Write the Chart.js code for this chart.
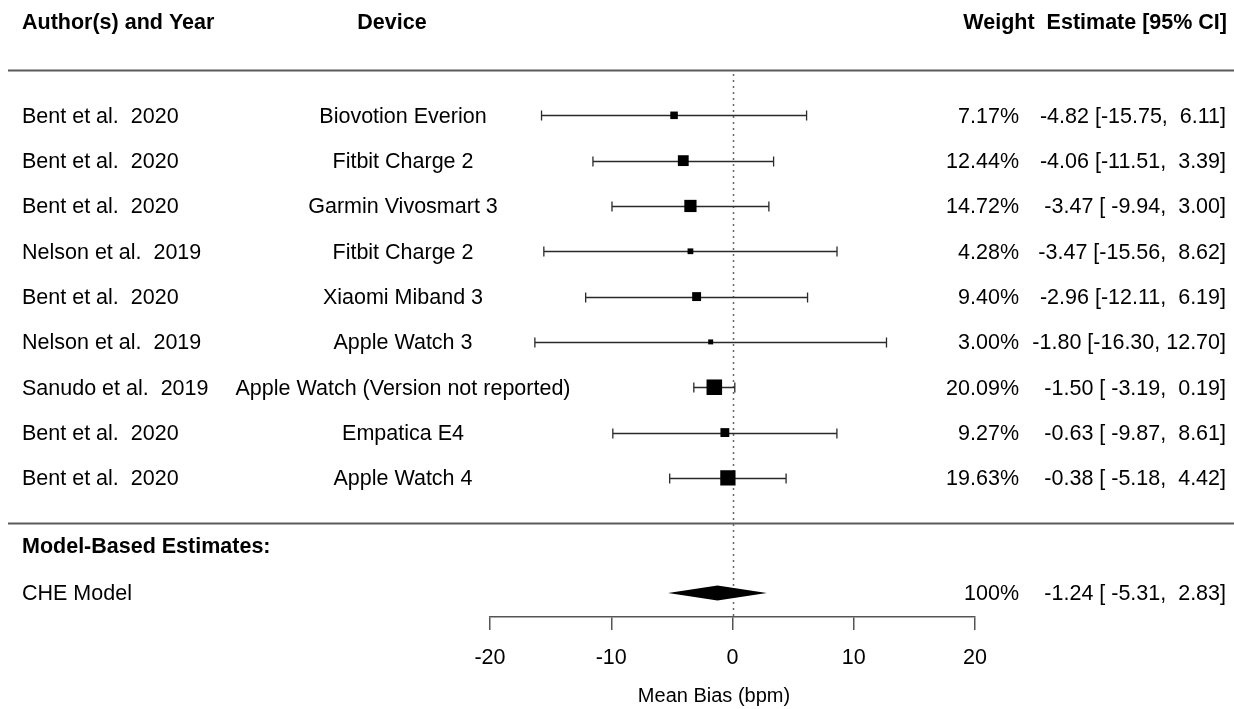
<!DOCTYPE html>
<html>
<head>
<meta charset="utf-8">
<script src="https://cdn.jsdelivr.net/npm/chart.js@4.4.0/dist/chart.umd.min.js"></script>
<style>
  html, body { margin: 0; padding: 0; background: #fff; }
  #wrap { width: 1234px; height: 709px; position: relative; }
</style>
</head>
<body>
<div id="wrap"><canvas id="forest"></canvas></div>
<script>
// ==============================
// Data
// ==============================
const authors = [
  "Bent et al.  2020", "Bent et al.  2020", "Bent et al.  2020",
  "Nelson et al.  2019", "Bent et al.  2020", "Nelson et al.  2019",
  "Sanudo et al.  2019", "Bent et al.  2020", "Bent et al.  2020"
];
const devices = [
  "Biovotion Everion", "Fitbit Charge 2", "Garmin Vivosmart 3",
  "Fitbit Charge 2", "Xiaomi Miband 3", "Apple Watch 3",
  "Apple Watch (Version not reported)", "Empatica E4", "Apple Watch 4"
];
const weights = [7.17, 12.44, 14.72, 4.28, 9.40, 3.00, 20.09, 9.27, 19.63];
const estimates = [-4.82, -4.06, -3.47, -3.47, -2.96, -1.80, -1.50, -0.63, -0.38];
const ciLower = [-15.75, -11.51, -9.94, -15.56, -12.11, -16.30, -3.19, -9.87, -5.18];
const ciUpper = [6.11, 3.39, 3.00, 8.62, 6.19, 12.70, 0.19, 8.61, 4.42];

const modelLabel = "CHE Model";
const modelWeight = 100;
const modelEstimate = -1.24;
const modelLower = -5.31;
const modelUpper = 2.83;

const xTicks = [-20, -10, 0, 10, 20];
const xTitle = "Mean Bias (bpm)";

// rows: studies top to bottom, then the model block
const studyRows = estimates.map((_, i) => estimates.length - i);
const headerRow = 11.06;
const topLineRow = 10;
const bottomLineRow = 0;
const sectionRow = -0.5;
const modelRow = -1.54;

// ==============================
// Helpers
// ==============================
const FONT = "'Liberation Sans', Arial, Helvetica, sans-serif";
const TXT = 21.5;
const DY = 1.5; // visual centering of text on a row
function fmt(v, w) { return v.toFixed(2).padStart(w, " "); }
function ciText(est, lo, hi) {
  return fmt(est, 5) + " [" + fmt(lo, 6) + ", " + fmt(hi, 5) + "]";
}
function sideFor(w) { return 3.1 + 0.62 * w; }

// ==============================
// Plugin: table text, lines, CIs, diamond
// ==============================
const forestPlugin = {
  id: "forest",
  beforeDatasetsDraw(chart) {
    const { ctx, scales: { x, y } } = chart;
    ctx.save();

    // horizontal separators
    ctx.strokeStyle = "#5a5a5a";
    ctx.lineWidth = 2;
    [topLineRow, bottomLineRow].forEach(r => {
      const py = Math.round(y.getPixelForValue(r)) + 0.5;
      ctx.beginPath();
      ctx.moveTo(8, py);
      ctx.lineTo(1234, py);
      ctx.stroke();
    });

    // dotted reference line at 0
    ctx.strokeStyle = "#666";
    ctx.lineWidth = 1.5;
    ctx.setLineDash([2, 4]);
    const x0 = Math.round(x.getPixelForValue(0)) + 0.5;
    ctx.beginPath();
    ctx.moveTo(x0, y.getPixelForValue(topLineRow) + 4);
    ctx.lineTo(x0, y.bottom);
    ctx.stroke();
    ctx.setLineDash([]);

    // confidence intervals
    ctx.strokeStyle = "#2a2a2a";
    ctx.lineWidth = 1.3;
    estimates.forEach((_, i) => {
      const py = Math.round(y.getPixelForValue(studyRows[i])) + 0.5;
      const xl = x.getPixelForValue(ciLower[i]);
      const xh = x.getPixelForValue(ciUpper[i]);
      ctx.beginPath();
      ctx.moveTo(xl, py); ctx.lineTo(xh, py);
      ctx.moveTo(xl, py - 5); ctx.lineTo(xl, py + 5);
      ctx.moveTo(xh, py - 5); ctx.lineTo(xh, py + 5);
      ctx.stroke();
    });
    ctx.restore();
  },
  afterDatasetsDraw(chart) {
    const { ctx, scales: { x, y } } = chart;
    ctx.save();

    // model diamond
    const my = y.getPixelForValue(modelRow);
    ctx.fillStyle = "#000";
    ctx.beginPath();
    ctx.moveTo(x.getPixelForValue(modelLower), my);
    ctx.lineTo(x.getPixelForValue(modelEstimate), my - 7.5);
    ctx.lineTo(x.getPixelForValue(modelUpper), my);
    ctx.lineTo(x.getPixelForValue(modelEstimate), my + 7.5);
    ctx.closePath();
    ctx.fill();

    // text
    ctx.fillStyle = "#000";
    ctx.textBaseline = "middle";
    const hy = y.getPixelForValue(headerRow) + DY;
    ctx.font = "bold " + TXT + "px " + FONT;
    ctx.textAlign = "left";
    ctx.fillText("Author(s) and Year", 22, hy);
    ctx.textAlign = "center";
    ctx.fillText("Device", 392, hy);
    ctx.textAlign = "right";
    ctx.fillText("Weight  Estimate [95% CI]", 1227, hy);

    ctx.font = TXT + "px " + FONT;
    estimates.forEach((est, i) => {
      const py = y.getPixelForValue(studyRows[i]) + DY;
      ctx.textAlign = "left";
      ctx.fillText(authors[i], 22, py);
      ctx.textAlign = "center";
      ctx.fillText(devices[i], 403, py);
      ctx.textAlign = "right";
      ctx.fillText(weights[i].toFixed(2) + "%", 1019, py);
      ctx.fillText(ciText(est, ciLower[i], ciUpper[i]), 1226, py);
    });

    ctx.font = "bold " + TXT + "px " + FONT;
    ctx.textAlign = "left";
    ctx.fillText("Model-Based Estimates:", 22, y.getPixelForValue(sectionRow) + DY);

    ctx.font = TXT + "px " + FONT;
    ctx.fillText(modelLabel, 22, my + DY);
    ctx.textAlign = "right";
    ctx.fillText(modelWeight + "%", 1019, my + DY);
    ctx.fillText(ciText(modelEstimate, modelLower, modelUpper), 1226, my + DY);

    // axis title, centred on the whole figure width like the original
    ctx.font = "20px " + FONT;
    ctx.textAlign = "center";
    ctx.fillText(xTitle, 714, 696);
    ctx.restore();
  }
};

// ==============================
// Chart
// ==============================
const ctx = document.getElementById("forest").getContext("2d");
new Chart(ctx, {
  type: "scatter",
  data: {
    datasets: [{
      label: "Estimate",
      data: estimates.map((e, i) => ({ x: e, y: studyRows[i] })),
      pointStyle: "rect",
      pointRadius: c => sideFor(weights[c.dataIndex]) / Math.SQRT2,
      pointHoverRadius: c => sideFor(weights[c.dataIndex]) / Math.SQRT2,
      backgroundColor: "#000",
      borderColor: "#000",
      borderWidth: 0
    }]
  },
  options: {
    responsive: true,
    maintainAspectRatio: false,
    animation: false,
    layout: { padding: { left: 490, right: 259, top: 70, bottom: 0 } },
    plugins: {
      legend: { display: false },
      tooltip: { enabled: false }
    },
    scales: {
      x: {
        type: "linear",
        min: -20,
        max: 20,
        afterBuildTicks: s => { s.ticks = xTicks.map(v => ({ value: v })); },
        afterFit: s => { s.height = 92; },
        ticks: {
          color: "#000",
          font: { family: FONT, size: TXT },
          padding: 15,
          maxRotation: 0
        },
        grid: {
          drawOnChartArea: false,
          drawTicks: true,
          tickLength: 13,
          color: "#555",
          lineWidth: 1.5
        },
        border: { display: true, color: "#555", width: 1.5 },
        title: { display: false }
      },
      y: {
        type: "linear",
        display: false,
        min: -2.07,
        max: 10
      }
    }
  },
  plugins: [forestPlugin]
});
</script>
</body>
</html>
